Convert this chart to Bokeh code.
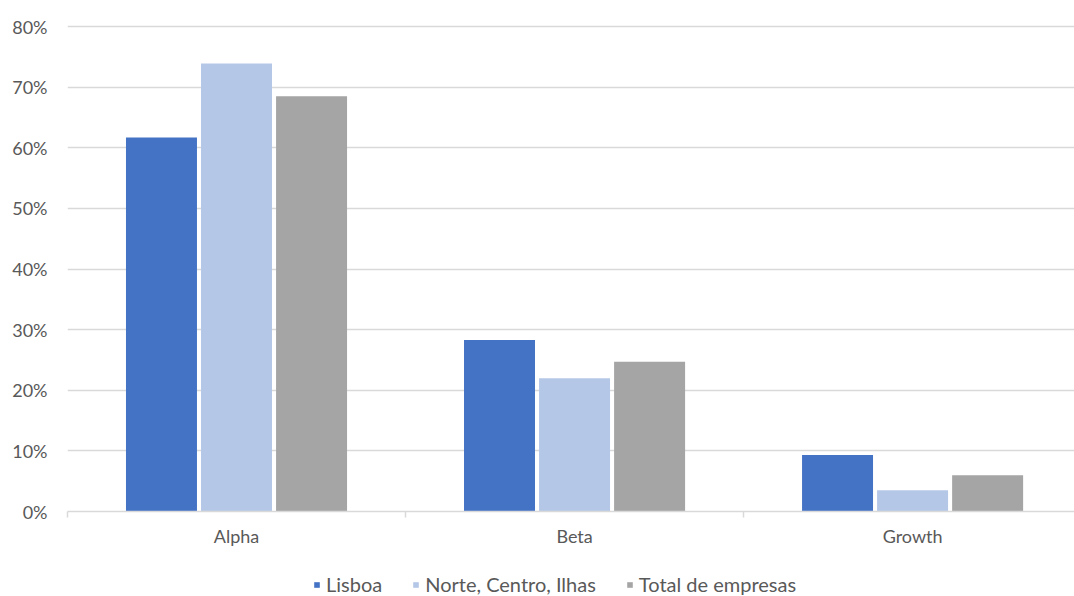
from bokeh.plotting import figure
from bokeh.layouts import column
from bokeh.models import (ColumnDataSource, Range1d, FixedTicker, NumeralTickFormatter,
                          Legend, LegendItem)
from bokeh.embed import file_html
from bokeh.resources import INLINE

# Share of companies by stage
categories = ["Alpha", "Beta", "Growth"]
series_names = ["Lisboa", "Norte, Centro, Ilhas", "Total de empresas"]
lisboa = [0.617, 0.283, 0.093]
norte_centro_ilhas = [0.739, 0.220, 0.035]
total_empresas = [0.685, 0.247, 0.060]

colors = ["#4472C4", "#B4C7E7", "#A5A5A5"]
FONT = "Lato"
TEXT = "#595959"

centers = [i + 0.5 for i in range(len(categories))]

p = figure(width=1074, height=560, output_backend="svg", toolbar_location=None,
           x_range=Range1d(0, 2.979), y_range=Range1d(0, 0.8033),
           min_border_left=67, min_border_right=0, min_border_top=24,
           min_border_bottom=49)
p.outline_line_color = None
p.background_fill_color = "white"
p.border_fill_color = "white"

bar_w = 0.21
offsets = [-0.222, 0.0, 0.222]
sources = []
for vals, col, off in zip([lisboa, norte_centro_ilhas, total_empresas], colors, offsets):
    src = ColumnDataSource(dict(x=[c + off for c in centers], top=vals))
    sources.append(src)
    p.vbar(x="x", top="top", width=bar_w, bottom=0, source=src,
           fill_color=col, line_color=None)

# y axis
p.yaxis.ticker = FixedTicker(ticks=[i / 10 for i in range(9)])
p.yaxis.formatter = NumeralTickFormatter(format="0%")
p.yaxis.axis_line_color = None
p.yaxis.major_tick_line_color = None
p.yaxis.minor_tick_line_color = None
p.yaxis.major_label_text_font = FONT
p.yaxis.major_label_text_font_size = "18px"
p.yaxis.major_label_text_color = TEXT
p.yaxis.major_label_standoff = 14

# x axis: labels at category centers, small ticks at category boundaries
p.xaxis.ticker = FixedTicker(ticks=centers, minor_ticks=[0, 1, 2, 3])
p.xaxis.major_label_overrides = {c: n for c, n in zip(centers, categories)}
p.xaxis.major_tick_line_color = None
p.xaxis.minor_tick_line_color = "#d9d9d9"
p.xaxis.minor_tick_out = 6
p.xaxis.minor_tick_in = 0
p.xaxis.minor_tick_line_width = 1.5
p.xaxis.axis_line_color = "#d9d9d9"
p.xaxis.axis_line_width = 1.5
p.xaxis.major_label_text_font = FONT
p.xaxis.major_label_text_font_size = "18px"
p.xaxis.major_label_text_color = TEXT
p.xaxis.major_label_standoff = 7

p.xgrid.grid_line_color = None
p.ygrid.grid_line_color = "#d9d9d9"
p.ygrid.grid_line_width = 1.5

# legend strip under the chart; its renderers share the bar sources but stay hidden
leg = figure(width=1074, height=36, output_backend="svg", toolbar_location=None,
             x_range=Range1d(0, 1), y_range=Range1d(0, 1),
             min_border=0)
leg.axis.visible = False
leg.grid.visible = False
leg.outline_line_color = None
items = []
for name, col, src in zip(series_names, colors, sources):
    r = leg.vbar(x="x", top="top", width=0.1, source=src,
                 fill_color=col, line_color=None, visible=False)
    items.append(LegendItem(label=name, renderers=[r]))

legend = Legend(items=items, orientation="horizontal", location=(246, 0),
                label_text_font=FONT, label_text_font_size="20px",
                label_text_color=TEXT, glyph_width=7, glyph_height=7,
                spacing=30, label_standoff=6, border_line_color=None,
                background_fill_alpha=0, margin=0, padding=0,
                inactive_fill_alpha=0)
leg.add_layout(legend, "center")

open("out.html", "w").write(file_html(column(p, leg, spacing=0), INLINE))
